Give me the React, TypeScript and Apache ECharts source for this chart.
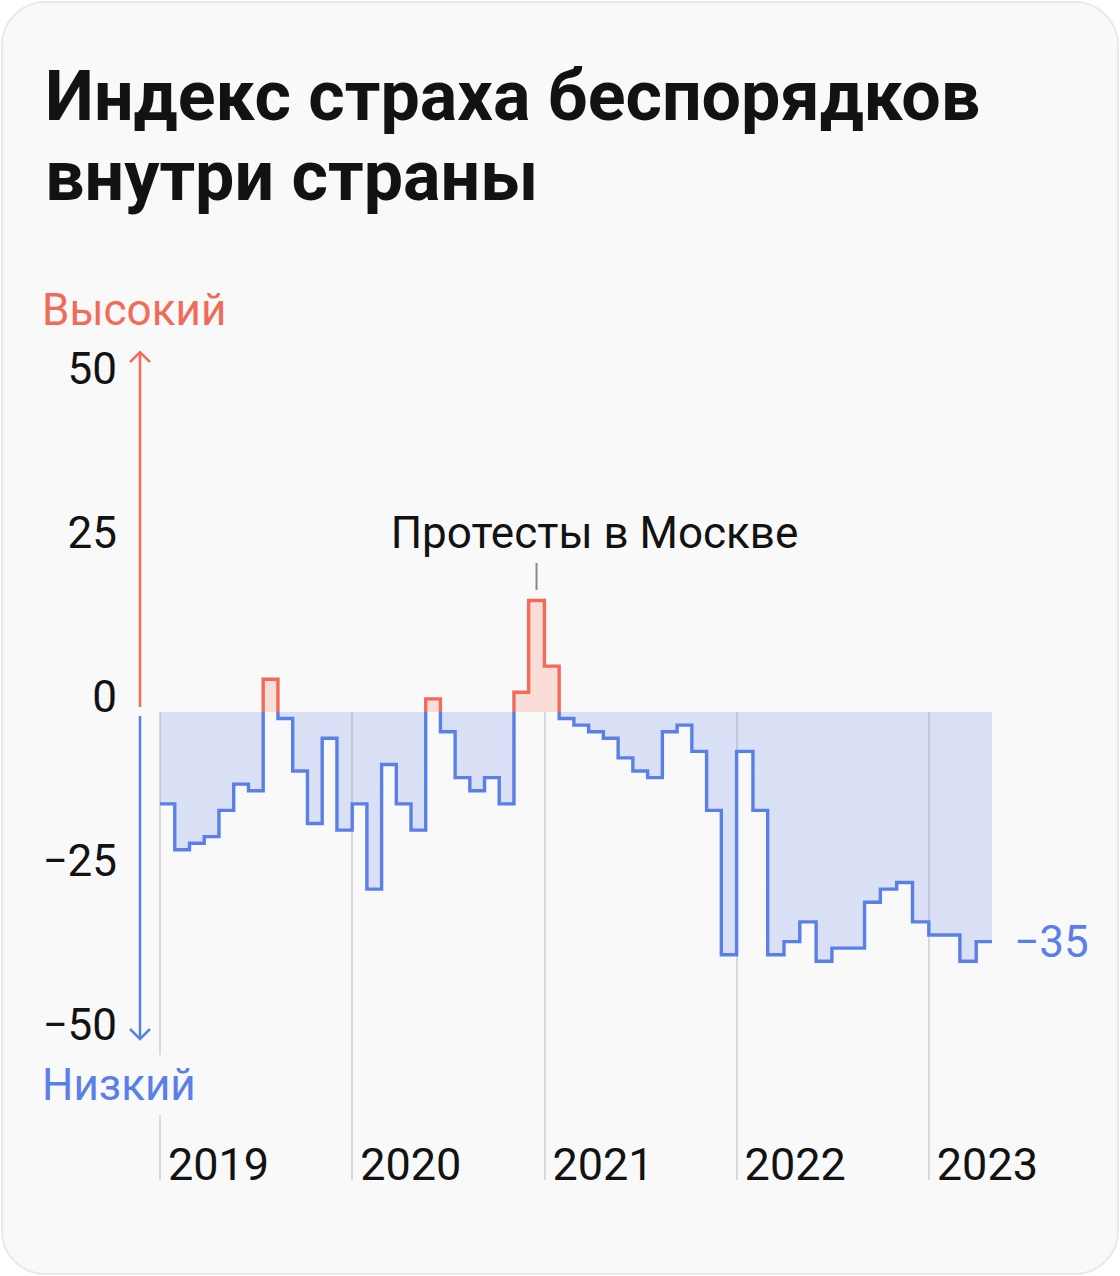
import React, { useEffect, useRef } from "react";
import * as echarts from "echarts";

// ---- data ----
const titleText = "Индекс страха беспорядков\nвнутри страны";
const highLabel = "Высокий";
const lowLabel = "Низкий";
const annotationText = "Протесты в Москве";
const annotationIndex = 25; // period with the peak

const periodStarts = [
  "2019-01-01", "2019-01-29", "2019-02-26", "2019-03-26", "2019-04-23", "2019-05-21", "2019-06-18",
  "2019-07-16", "2019-08-13", "2019-09-10", "2019-10-08", "2019-11-05", "2019-12-03",
  "2020-01-01", "2020-01-29", "2020-02-26", "2020-03-25", "2020-04-22", "2020-05-20", "2020-06-17",
  "2020-07-15", "2020-08-12", "2020-09-09", "2020-10-07", "2020-11-04", "2020-12-02",
  "2021-01-01", "2021-01-29", "2021-02-26", "2021-03-26", "2021-04-23", "2021-05-21", "2021-06-18",
  "2021-07-16", "2021-08-13", "2021-09-10", "2021-10-08", "2021-11-05", "2021-12-03",
  "2022-01-01", "2022-02-01", "2022-03-01", "2022-04-01", "2022-05-01", "2022-06-01",
  "2022-07-01", "2022-08-01", "2022-09-01", "2022-10-01", "2022-11-01", "2022-12-01",
  "2023-01-01", "2023-02-01", "2023-03-01", "2023-04-01",
];
const periodEnd = "2023-05-01";

const indexValues = [
  -14, -21, -20, -19, -15, -11, -12, 5, -1, -9, -17, -4, -18,
  -14, -27, -8, -14, -18, 2, -3, -10, -12, -10, -14, 3, 17,
  7, -1, -2, -3, -4, -7, -9, -10, -3, -2, -6, -15, -37,
  -6, -15, -37, -35, -32, -38, -36, -36, -29, -27, -26, -32,
  -34, -34, -38, -35,
];

const yearTicks = [2019, 2020, 2021, 2022, 2023];
const yMin = -75;
const yMax = 75;
const yStep = 25;
const yLabelLimit = 50;
const arrowTopValue = 55;
const arrowBottomValue = -50;
const gridLineBottomValue = -71.3;

// ---- styles ----
const RED = "#f26b57";
const BLUE = "#5b7fe8";
const TEXT = "#121212";
const FONT = "Roboto, 'Noto Sans', sans-serif";

function toYear(d: string): number {
  const [y, m, day] = d.split("-").map(Number);
  const s = Date.UTC(y, 0, 1);
  const e = Date.UTC(y + 1, 0, 1);
  return y + (Date.UTC(y, m - 1, day) - s) / (e - s);
}

const minus = (v: number) => (v < 0 ? "\u2212" + Math.abs(v) : String(v));

export default function App() {
  const ref = useRef<HTMLDivElement>(null);

  useEffect(() => {
    document.body.style.margin = "0";
    if (!ref.current) return;
    const chart = echarts.init(ref.current, undefined, { renderer: "svg" });

    const xs = periodStarts.map(toYear);
    const xEnd = toYear(periodEnd);
    const lineData: [number, number][] = xs.map((x, i) => [x, indexValues[i]]);
    lineData.push([xEnd, indexValues[indexValues.length - 1]]);
    const lastValue = indexValues[indexValues.length - 1];

    const peakX = (xs[annotationIndex] + xs[annotationIndex + 1]) / 2;
    const peakV = indexValues[annotationIndex];

    chart.setOption({
      animation: false,
      backgroundColor: "transparent",
      title: {
        text: titleText,
        left: 40,
        top: 51,
        textStyle: {
          fontSize: 70,
          fontWeight: "bold",
          lineHeight: 80,
          color: TEXT,
          fontFamily: FONT,
        },
      },
      grid: { left: 160, right: 128, top: 220, bottom: 72, containLabel: false },
      xAxis: {
        type: "value",
        min: 2019,
        max: xEnd,
        interval: 1,
        axisLine: { show: false },
        axisTick: { show: false },
        splitLine: { show: false },
        axisLabel: {
          formatter: (v: number) => (Number.isInteger(v) ? String(v) : ""),
          align: "left",
          verticalAlign: "middle",
          padding: [0, 0, 0, 8],
          margin: -40,
          fontSize: 45,
          color: TEXT,
          fontFamily: FONT,
        },
      },
      yAxis: {
        type: "value",
        min: yMin,
        max: yMax,
        interval: yStep,
        axisLine: { show: false },
        axisTick: { show: false },
        splitLine: { show: false },
        axisLabel: {
          formatter: (v: number) => (Math.abs(v) > yLabelLimit ? "" : minus(v)),
          fontSize: 44,
          color: TEXT,
          fontFamily: FONT,
          margin: 43,
          verticalAlign: "bottom",
          lineHeight: 30,
        },
      },
      visualMap: {
        type: "piecewise",
        show: false,
        seriesIndex: 0,
        dimension: 1,
        pieces: [
          { gt: 0, lte: 1000, color: RED },
          { gte: -1000, lte: 0, color: BLUE },
        ],
      },
      series: [
        {
          type: "line",
          data: lineData,
          step: "end",
          symbol: "none",
          z: 3,
          lineStyle: { width: 3.4, join: "miter" },
          areaStyle: { opacity: 0.2 },
          endLabel: {
            show: true,
            formatter: () => minus(lastValue),
            color: BLUE,
            fontSize: 44,
            fontFamily: FONT,
            distance: 22,
          },
          markPoint: {
            silent: true,
            symbol: "rect",
            symbolSize: [2, 27],
            symbolOffset: [0, -24],
            itemStyle: { color: "#8a8a8a" },
            label: {
              show: true,
              position: "top",
              distance: 8,
              offset: [58, 0],
              formatter: annotationText,
              color: TEXT,
              fontSize: 44,
              fontFamily: FONT,
            },
            data: [{ coord: [peakX, peakV] }],
          },
          markLine: {
            silent: true,
            z: 1,
            symbol: ["none", "none"],
            label: { show: false },
            lineStyle: { color: "#d9d9d9", width: 2, type: "solid" },
            data: yearTicks.map((y) => [{ coord: [y, 0] }, { coord: [y, gridLineBottomValue] }]),
          },
        },
      ],
    });

    const p0 = chart.convertToPixel({ gridIndex: 0 }, [2019, 0]) as number[];
    const pTop = chart.convertToPixel({ gridIndex: 0 }, [2019, arrowTopValue]) as number[];
    const pBot = chart.convertToPixel({ gridIndex: 0 }, [2019, arrowBottomValue]) as number[];
    const ax = p0[0] - 20;
    const y0 = p0[1];

    chart.setOption({
      graphic: [
        {
          type: "line",
          z: 50,
          shape: { x1: ax, y1: y0 - 5, x2: ax, y2: pTop[1] + 1 },
          style: { stroke: RED, lineWidth: 2.5 },
        },
        {
          type: "polyline",
          z: 50,
          shape: { points: [[ax - 10, pTop[1] + 11], [ax, pTop[1] + 1], [ax + 10, pTop[1] + 11]] },
          style: { stroke: RED, lineWidth: 2.5, fill: "none" },
        },
        {
          type: "line",
          z: 50,
          shape: { x1: ax, y1: y0 + 4, x2: ax, y2: pBot[1] - 1 },
          style: { stroke: BLUE, lineWidth: 2.5 },
        },
        {
          type: "polyline",
          z: 50,
          shape: { points: [[ax - 10, pBot[1] - 11], [ax, pBot[1] - 1], [ax + 10, pBot[1] - 11]] },
          style: { stroke: BLUE, lineWidth: 2.5, fill: "none" },
        },
        {
          type: "text",
          z: 60,
          x: 42,
          y: 310,
          style: {
            text: highLabel,
            fill: RED,
            fontSize: 44,
            fontFamily: FONT,
            verticalAlign: "middle",
          },
        },
        {
          type: "text",
          z: 60,
          x: 42,
          y: 1085,
          style: {
            text: lowLabel,
            fill: BLUE,
            fontSize: 44,
            fontFamily: FONT,
            verticalAlign: "middle",
            backgroundColor: "#f9f9f9",
            padding: [8, 0, 8, 0],
          },
        },
      ],
    });

    return () => chart.dispose();
  }, []);

  return (
    <div
      style={{
        position: "absolute",
        left: 0,
        top: 0,
        width: 1120,
        height: 1276,
        background: "#ffffff",
      }}
    >
      <div
        style={{
          position: "absolute",
          left: 1,
          top: 1,
          width: 1114,
          height: 1270,
          border: "2px solid #e9e9e9",
          borderRadius: 44,
          background: "#f9f9f9",
        }}
      />
      <div ref={ref} style={{ position: "absolute", left: 0, top: 0, width: 1120, height: 1276 }} />
    </div>
  );
}
